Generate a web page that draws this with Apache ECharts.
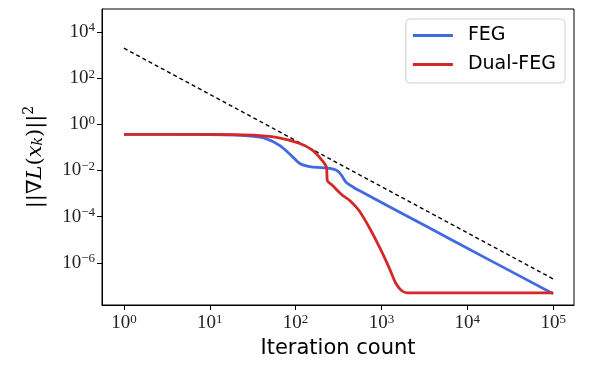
<!DOCTYPE html>
<html>
<head>
<meta charset="utf-8">
<script src="https://cdn.jsdelivr.net/npm/echarts@6/dist/echarts.min.js"></script>
<style>
  html, body { margin: 0; padding: 0; background: #fff; }
  #chart { width: 598px; height: 385px; }
</style>
</head>
<body>
<div id="chart"></div>
<script>
// iteration counts and squared gradient norm
var iterFEG = [1, 10, 20, 32, 45, 65, 89, 112, 145, 200, 251, 295, 324, 355, 389, 427, 479, 550, 3162, 17783, 100000]
var gradFEG = [0.37, 0.36, 0.34, 0.30, 0.24, 0.123, 0.045, 0.020, 0.0148, 0.0132, 0.0123, 0.0105, 0.0081, 0.0050, 0.0030, 0.0024, 0.0018, 0.00135, 4.2e-5, 1.37e-6, 4.6e-8]

var iterDual = [1, 10, 32, 60, 112, 158, 204, 229, 234, 269, 324, 355, 427, 550, 724, 955, 1230, 1480, 1740, 2000, 100000]
var gradDual = [0.37, 0.37, 0.34, 0.27, 0.148, 0.074, 0.027, 0.0135, 0.0037, 0.00224, 0.00112, 8.1e-4, 5.0e-4, 1.8e-4, 3.3e-5, 4.5e-6, 6.0e-7, 1.23e-7, 6.0e-8, 5.0e-8, 5.0e-8]

// reference rate C / k^2
var iterRef = [1, 100000]
var gradRef = [2000, 2e-7]

var xTicks = [1, 10, 100, 1000, 10000, 100000]
var yTicks = [1e-6, 1e-4, 1e-2, 1, 1e2, 1e4]

function pairs(xs, ys) {
  return xs.map(function (x, i) { return [x, ys[i]] })
}

// 10^n as rich text
function powLabel(v) {
  var e = Math.round(Math.log10(v))
  var s = e < 0 ? '\u2212' + (-e) : '' + e
  return '{b|10}{s|' + s + '}'
}

var tickRich = {
  b: { fontFamily: 'Liberation Serif', fontSize: 19, color: '#222' },
  s: { fontFamily: 'Liberation Serif', fontSize: 13, color: '#222', padding: [0, 0, 8, 0] }
}

var myChart = echarts.init(document.getElementById('chart'), null, { renderer: 'canvas' })

var option = {
  animation: false,
  grid: {
    left: 102,
    right: 24,
    top: 9,
    bottom: 80,
    show: true,
    borderColor: '#000',
    borderWidth: 1
  },
  legend: {
    orient: 'vertical',
    right: 33,
    top: 19,
    padding: [6, 9, 8, 7],
    itemGap: 8,
    itemWidth: 40,
    itemHeight: 3,
    icon: 'rect',
    backgroundColor: '#fff',
    borderColor: '#d0d0d0',
    borderWidth: 1,
    borderRadius: 4,
    textStyle: { fontFamily: 'DejaVu Sans', fontSize: 19, lineHeight: 21, color: '#000', padding: [0, 0, 0, 10] },
    data: ['FEG', 'Dual-FEG']
  },
  xAxis: {
    type: 'log',
    logBase: 10,
    min: 0.555,
    max: 175000,
    name: 'Iteration count',
    nameLocation: 'middle',
    nameGap: 32,
    nameTextStyle: { fontFamily: 'DejaVu Sans', fontSize: 21, color: '#000' },
    axisLine: { show: true, lineStyle: { color: '#000', width: 1 } },
    axisTick: { show: true, length: 5, lineStyle: { color: '#000' }, customValues: xTicks },
    axisLabel: { margin: 8, customValues: xTicks, formatter: powLabel, rich: tickRich },
    minorTick: { show: false },
    splitLine: { show: false }
  },
  yAxis: {
    type: 'log',
    logBase: 10,
    min: 1.48e-8,
    max: 1e5,
    name: '{a|||\u2207}{i|L}{a|(}{i|x}{k|k}{a|)||}{p|2}',
    nameLocation: 'middle',
    nameGap: 53,
    nameRotate: 90,
    nameTextStyle: {
      rich: {
        a: { fontFamily: 'DejaVu Serif', fontSize: 21, color: '#000' },
        i: { fontFamily: 'DejaVu Serif', fontStyle: 'italic', fontSize: 21, color: '#000' },
        k: { fontFamily: 'DejaVu Serif', fontStyle: 'italic', fontSize: 14, color: '#000', padding: [0, 0, -5, 0] },
        p: { fontFamily: 'DejaVu Serif', fontSize: 14, color: '#000', padding: [0, 0, 13, 0] }
      }
    },
    axisLine: { show: true, lineStyle: { color: '#000', width: 1 } },
    axisTick: { show: true, length: 5, lineStyle: { color: '#000' }, customValues: yTicks },
    axisLabel: { margin: 7, customValues: yTicks, formatter: powLabel, rich: tickRich },
    minorTick: { show: false },
    splitLine: { show: false }
  },
  series: [
    {
      name: 'ref',
      type: 'line',
      data: pairs(iterRef, gradRef),
      showSymbol: false,
      lineStyle: { color: '#000', width: 1.4, type: [4, 3] },
      z: 3
    },
    {
      name: 'FEG',
      type: 'line',
      data: pairs(iterFEG, gradFEG),
      showSymbol: false,
      smooth: 0.3,
      color: '#4169e1',
      lineStyle: { color: '#4169e1', width: 2.8 },
      z: 4
    },
    {
      name: 'Dual-FEG',
      type: 'line',
      data: pairs(iterDual, gradDual),
      showSymbol: false,
      smooth: 0.3,
      color: '#d62728',
      lineStyle: { color: '#d62728', width: 2.8 },
      z: 5
    }
  ]
}

myChart.setOption(option)
</script>
</body>
</html>
